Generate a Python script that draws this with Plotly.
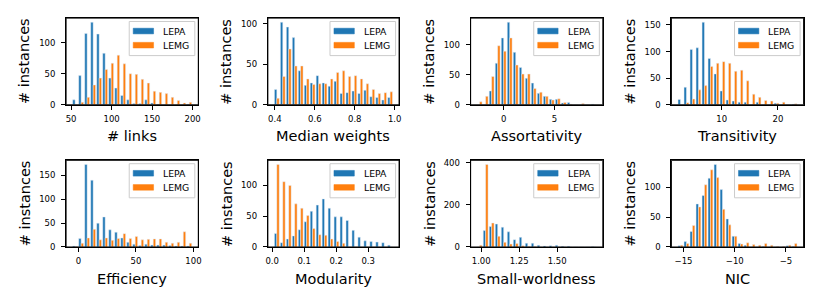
import numpy as np
import plotly.graph_objects as go

BLUE = "#1f77b4"
ORANGE = "#ff7f0e"
W, H = 822, 308

# ---------------- data (20-bin histograms: data range, counts) ----------------
LINKS_RANGE = (51.3, 199.6)
LINKS_LEPA = [8, 47, 115, 133, 114, 83, 43, 27, 15, 8, 2, 2, 8, 3, 1, 0, 0, 0, 0, 1]
LINKS_LEMG = [0, 4, 12, 32, 43, 57, 67, 80, 66, 50, 49, 41, 35, 22, 20, 18, 12, 7, 3, 4]
LINKS_XTICKS = [50, 100, 150, 200]
LINKS_XLABELS = ["50", "100", "150", "200"]
LINKS_YTICKS = [0, 50, 100]

MEDW_RANGE = (0.395, 0.992)
MEDW_LEPA = [19, 102, 96, 83, 42, 24, 27, 36, 27, 23, 29, 14, 15, 17, 14, 18, 10, 9, 6, 9]
MEDW_LEMG = [8, 35, 69, 48, 48, 32, 25, 26, 26, 32, 40, 42, 35, 36, 32, 26, 19, 14, 15, 16]
MEDW_XTICKS = [0.4, 0.6, 0.8, 1.0]
MEDW_XLABELS = ["0.4", "0.6", "0.8", "1.0"]
MEDW_YTICKS = [0, 50, 100]

ASSORT_RANGE = (-2.68, 9.2)
ASSORT_LEPA = [0, 0, 23, 69, 111, 137, 87, 62, 44, 36, 19, 14, 9, 9, 3, 4, 0, 0, 0, 1]
ASSORT_LEMG = [5, 14, 47, 98, 89, 111, 66, 51, 51, 27, 21, 14, 8, 10, 4, 1, 0, 2, 0, 0]
ASSORT_XTICKS = [0, 5]
ASSORT_XLABELS = ["0", "5"]
ASSORT_YTICKS = [0, 50, 100]

TRANS_RANGE = (2.1, 23.5)
TRANS_LEPA = [10, 33, 104, 107, 155, 87, 58, 26, 9, 7, 5, 5, 0, 5, 0, 0, 3, 0, 0, 1]
TRANS_LEMG = [0, 4, 11, 28, 36, 72, 78, 81, 78, 63, 65, 45, 20, 14, 8, 7, 3, 5, 0, 2]
TRANS_XTICKS = [10, 20]
TRANS_XLABELS = ["10", "20"]
TRANS_YTICKS = [0, 50, 100, 150]

EFF_RANGE = (-5.5, 99.0)
EFF_LEPA = [2, 18, 173, 140, 50, 63, 36, 31, 19, 10, 6, 3, 6, 4, 4, 4, 3, 2, 2, 2]
EFF_LEMG = [1, 8, 19, 37, 15, 19, 14, 18, 28, 18, 22, 15, 16, 17, 17, 10, 8, 10, 32, 8]
EFF_XTICKS = [0, 50, 100]
EFF_XLABELS = ["0", "50", "100"]
EFF_YTICKS = [0, 50, 100, 150]

MOD_RANGE = (0.0052, 0.378)
MOD_LEPA = [22, 7, 13, 18, 28, 41, 58, 68, 78, 63, 49, 49, 43, 27, 16, 10, 9, 8, 7, 3]
MOD_LEMG = [134, 106, 100, 70, 63, 51, 30, 20, 19, 13, 9, 6, 0, 0, 0, 0, 0, 0, 0, 0]
MOD_XTICKS = [0.0, 0.1, 0.2, 0.3]
MOD_XLABELS = ["0.0", "0.1", "0.2", "0.3"]
MOD_YTICKS = [0, 50, 100]

SW_RANGE = (0.970, 1.761)
SW_LEPA = [0, 78, 97, 109, 94, 72, 35, 46, 18, 18, 8, 5, 6, 8, 3, 3, 0, 0, 0, 1]
SW_LEMG = [8, 392, 114, 51, 22, 14, 17, 6, 2, 1, 0, 0, 0, 0, 0, 0, 0, 0, 0, 0]
SW_XTICKS = [1.00, 1.25, 1.50]
SW_XLABELS = ["1.00", "1.25", "1.50"]
SW_YTICKS = [0, 200, 400]

NIC_RANGE = (-15.6, -3.86)
NIC_LEPA = [2, 9, 26, 72, 86, 115, 138, 96, 47, 18, 6, 3, 0, 0, 1, 0, 0, 0, 2, 1]
NIC_LEMG = [3, 6, 36, 67, 104, 129, 116, 63, 37, 18, 5, 7, 4, 3, 6, 3, 1, 1, 3, 6]
NIC_XTICKS = [-15, -10, -5]
NIC_XLABELS = ["\u221215", "\u221210", "\u22125"]
NIC_YTICKS = [0, 50, 100]

SERIES_NAMES = ["LEPA", "LEMG"]
X_TITLES = ["# links", "Median weights", "Assortativity", "Transitivity",
            "Efficiency", "Modularity", "Small-worldness", "NIC"]
Y_TITLE = "# instances"

panels = [
    (LINKS_RANGE, LINKS_LEPA, LINKS_LEMG, LINKS_XTICKS, LINKS_XLABELS, LINKS_YTICKS),
    (MEDW_RANGE, MEDW_LEPA, MEDW_LEMG, MEDW_XTICKS, MEDW_XLABELS, MEDW_YTICKS),
    (ASSORT_RANGE, ASSORT_LEPA, ASSORT_LEMG, ASSORT_XTICKS, ASSORT_XLABELS, ASSORT_YTICKS),
    (TRANS_RANGE, TRANS_LEPA, TRANS_LEMG, TRANS_XTICKS, TRANS_XLABELS, TRANS_YTICKS),
    (EFF_RANGE, EFF_LEPA, EFF_LEMG, EFF_XTICKS, EFF_XLABELS, EFF_YTICKS),
    (MOD_RANGE, MOD_LEPA, MOD_LEMG, MOD_XTICKS, MOD_XLABELS, MOD_YTICKS),
    (SW_RANGE, SW_LEPA, SW_LEMG, SW_XTICKS, SW_XLABELS, SW_YTICKS),
    (NIC_RANGE, NIC_LEPA, NIC_LEMG, NIC_XTICKS, NIC_XLABELS, NIC_YTICKS),
]

# ---------------- layout geometry (pixels) ----------------
COLS = [(64.5, 197.5), (267.5, 399.5), (471.5, 604.5), (673.5, 806.5)]
ROWS = [(15.5, 104.5), (161.5, 250.5)]
FONT = "DejaVu Sans"
TICK_SIZE = 8.5
TITLE_SIZE = 14.5
LEG_SIZE = 9.3

fig = go.Figure()
layout = dict(
    width=W, height=H, margin=dict(l=0, r=0, t=0, b=0),
    paper_bgcolor="white", plot_bgcolor="white",
    barmode="overlay", showlegend=False,
)
annotations = []
shapes = []


def px(x):
    return x / W


def py(y):
    return 1 - y / H


for i, (rng, lepa, lemg, xt, xl, yt) in enumerate(panels):
    r, c = divmod(i, 4)
    x0, x1 = COLS[c]
    y0, y1 = ROWS[r]
    n = len(lepa)
    edges = np.linspace(rng[0], rng[1], n + 1)
    centers = (edges[:-1] + edges[1:]) / 2
    bw = edges[1] - edges[0]
    ax = "" if i == 0 else str(i + 1)
    fig.add_trace(go.Bar(x=centers, y=lepa, width=0.4 * bw, offset=-0.4 * bw,
                         marker=dict(color=BLUE),
                         name=SERIES_NAMES[0], xaxis="x" + ax, yaxis="y" + ax))
    fig.add_trace(go.Bar(x=centers, y=lemg, width=0.4 * bw, offset=0.0,
                         marker=dict(color=ORANGE),
                         name=SERIES_NAMES[1], xaxis="x" + ax, yaxis="y" + ax))
    span = rng[1] - rng[0]
    ymax = max(max(lepa), max(lemg)) * 1.05
    common = dict(showline=True, mirror=True, linecolor="#000000", linewidth=1,
                  ticks="outside", ticklen=4, tickwidth=1, tickcolor="#000000",
                  showgrid=False, zeroline=False,
                  tickfont=dict(size=TICK_SIZE, family=FONT, color="black"))
    layout["xaxis" + ax] = dict(common, domain=[px(x0), px(x1)], anchor="y" + ax,
                                range=[rng[0] - 0.05 * span, rng[1] + 0.05 * span],
                                tickmode="array", tickvals=xt, ticktext=xl,
                                ticklabelstandoff=2)
    layout["yaxis" + ax] = dict(common, domain=[py(y1), py(y0)], anchor="x" + ax,
                                range=[0, ymax], tickmode="array", tickvals=yt,
                                ticktext=[str(v) for v in yt], ticklabelstandoff=4)
    # axes frame
    shapes.append(dict(type="rect", xref="paper", yref="paper",
                       x0=px(x0), x1=px(x1), y0=py(y1), y1=py(y0),
                       line=dict(color="#000000", width=1),
                       fillcolor="rgba(0,0,0,0)", layer="above"))
    # axis titles
    annotations.append(dict(text=X_TITLES[i], x=px((x0 + x1) / 2), y=py(y1 + 32.5),
                            xref="paper", yref="paper", xanchor="center", yanchor="middle",
                            showarrow=False, font=dict(size=TITLE_SIZE, family=FONT, color="black")))
    annotations.append(dict(text=Y_TITLE, x=px(x0 - 41.7), y=py((y0 + y1) / 2),
                            xref="paper", yref="paper", xanchor="center", yanchor="middle",
                            textangle=-90, showarrow=False,
                            font=dict(size=TITLE_SIZE, family=FONT, color="black")))
    # legend box
    lr = x1 - 3.5
    ll = lr - 66
    lt = y0 + 3.5
    lb = lt + 35
    shapes.append(dict(type="rect", xref="paper", yref="paper",
                       x0=px(ll), x1=px(lr), y0=py(lb), y1=py(lt),
                       fillcolor="rgba(255,255,255,0.8)", line=dict(color="#cccccc", width=1),
                       layer="above"))
    for k, (nm, col) in enumerate(zip(SERIES_NAMES, [BLUE, ORANGE])):
        cy = lt + 9.8 + k * 14.5
        shapes.append(dict(type="rect", xref="paper", yref="paper",
                           x0=px(ll + 4), x1=px(ll + 24.5), y0=py(cy + 2.9), y1=py(cy - 2.9),
                           fillcolor=col, line=dict(color=col, width=0.5), layer="above"))
        annotations.append(dict(text=nm, x=px(ll + 32), y=py(cy), xref="paper", yref="paper",
                                xanchor="left", yanchor="middle", showarrow=False,
                                font=dict(size=LEG_SIZE, family=FONT, color="black")))

layout["annotations"] = annotations
layout["shapes"] = shapes
fig.update_layout(**layout)
fig.write_html("out.html", config={"displayModeBar": False},
               post_script="document.body.style.margin='0px';document.body.style.padding='0px';")
